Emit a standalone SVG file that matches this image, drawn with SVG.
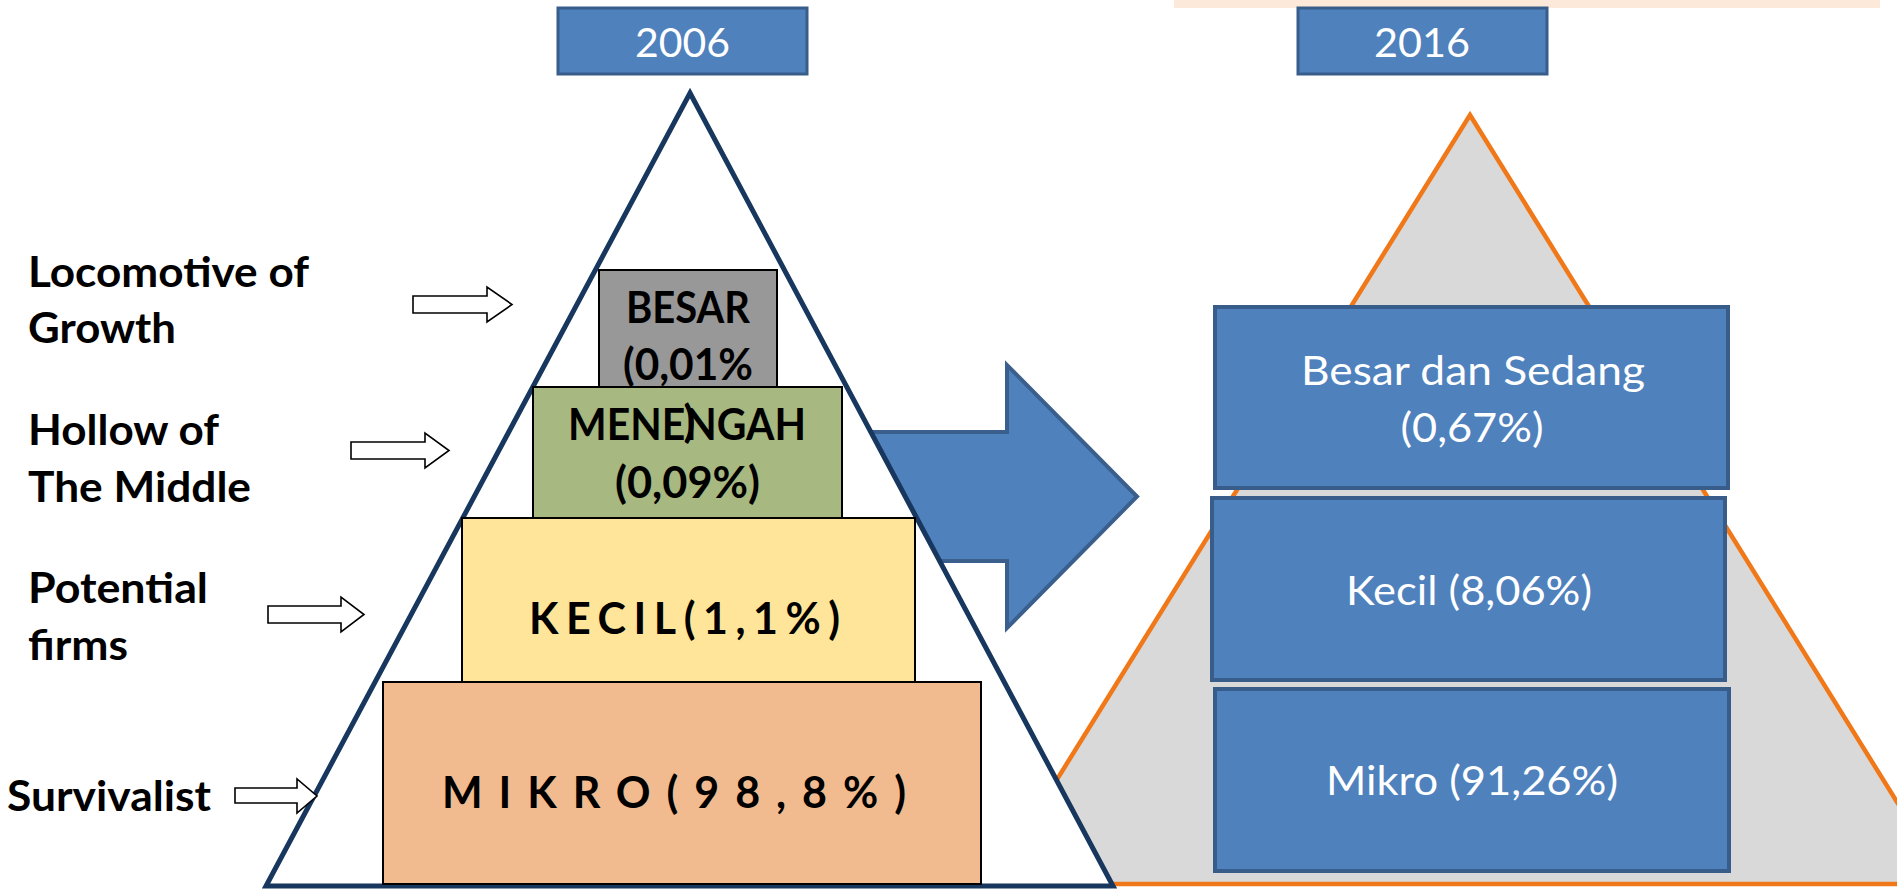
<svg xmlns="http://www.w3.org/2000/svg" width="1897" height="889" viewBox="0 0 1897 889">
  <style>
    .lbl { font-family: Lato, "Liberation Sans", sans-serif; font-weight: bold; font-size: 42px; fill: #000; }
    .boxt { font-family: Lato, "Liberation Sans", sans-serif; font-weight: bold; font-size: 43px; fill: #000; }
    .wt { font-family: Lato, "Liberation Sans", sans-serif; font-size: 41px; fill: #fff; }
    .yr { font-family: Lato, "Liberation Sans", sans-serif; font-size: 40px; fill: #fff; }
    .blue { fill: #4F81BD; stroke: #385D8A; stroke-width: 4; }
    .lbox { stroke: #000; stroke-width: 2; }
    .hollow { fill: #fff; stroke: #000; stroke-width: 1.6; }
  </style>

  <rect id="topbar" x="1174" y="0" width="706" height="8" fill="#FDE9D9"/>

  <g id="pyramid2016">
    <polygon points="1470,115 1948,884 992,884" fill="#D9D9D9" stroke="#F07818" stroke-width="4.5"/>
  </g>

  <g id="connectors">
    <path id="bigArrow" d="M850,432 H1007 V365 L1137,496.5 L1007,628 V561 H850 Z" fill="#4F81BD" stroke="#3A5F8D" stroke-width="4"/>
  </g>

  <g id="pyramid2006">
    <polygon points="690,93 1113,886 266,886" fill="#fff" stroke="#17375E" stroke-width="5"/>
  </g>

  <g id="mikro2006">
    <rect class="lbox" x="383" y="682" width="598" height="202" fill="#F2BB8F"/>
  </g>
  <g id="kecil2006">
    <rect class="lbox" x="462" y="518" width="453" height="164" fill="#FFE599"/>
  </g>
  <g id="menengah2006">
    <rect class="lbox" x="533" y="387" width="309" height="131" fill="#A7B880"/>
  </g>
  <g id="besar2006">
    <rect class="lbox" x="599" y="270" width="178" height="117" fill="#989898"/>
  </g>

  <g id="texts2006">
    <text class="boxt" x="688" y="323" text-anchor="middle" textLength="124" lengthAdjust="spacingAndGlyphs">BESAR</text>
    <text class="boxt" x="688" y="380" text-anchor="middle" textLength="130" lengthAdjust="spacingAndGlyphs">(0,01%</text>
    <text class="boxt" x="689.5" y="437" text-anchor="middle">)</text>
    <text class="boxt" x="687" y="440" text-anchor="middle" textLength="238" lengthAdjust="spacingAndGlyphs">MENENGAH</text>
    <text class="boxt" x="687.5" y="498" text-anchor="middle" textLength="145" lengthAdjust="spacingAndGlyphs">(0,09%)</text>
    <text class="boxt" x="529" y="634" textLength="311" lengthAdjust="spacing">KECIL(1,1%)</text>
    <text class="boxt" x="442" y="808" textLength="464" lengthAdjust="spacing">MIKRO(98,8%)</text>
  </g>

  <g id="besarSedang2016">
    <rect class="blue" x="1215" y="307" width="513" height="181"/>
    <text class="wt" x="1473" y="385" text-anchor="middle" textLength="344" lengthAdjust="spacingAndGlyphs">Besar dan Sedang</text>
    <text class="wt" x="1472" y="442" text-anchor="middle" textLength="143" lengthAdjust="spacingAndGlyphs">(0,67%)</text>
  </g>
  <g id="kecil2016">
    <rect class="blue" x="1212" y="498" width="513" height="182"/>
    <text class="wt" x="1469" y="605" text-anchor="middle" textLength="246" lengthAdjust="spacingAndGlyphs">Kecil (8,06%)</text>
  </g>
  <g id="mikro2016">
    <rect class="blue" x="1215" y="689" width="514" height="182"/>
    <text class="wt" x="1472" y="795" text-anchor="middle" textLength="292" lengthAdjust="spacingAndGlyphs">Mikro (91,26%)</text>
  </g>

  <g id="year2006">
    <rect x="558" y="8" width="249" height="66" fill="#4F81BD" stroke="#385D8A" stroke-width="3"/>
    <text class="yr" x="682.5" y="57" text-anchor="middle" textLength="95" lengthAdjust="spacingAndGlyphs">2006</text>
  </g>
  <g id="year2016">
    <rect x="1298" y="8" width="249" height="66" fill="#4F81BD" stroke="#385D8A" stroke-width="3"/>
    <text class="yr" x="1422" y="57" text-anchor="middle" textLength="96" lengthAdjust="spacingAndGlyphs">2016</text>
  </g>

  <g id="labelLocomotive">
    <text class="lbl" x="28" y="287" textLength="281" lengthAdjust="spacingAndGlyphs">Locomotive of</text>
    <text class="lbl" x="28" y="343" textLength="148" lengthAdjust="spacingAndGlyphs">Growth</text>
  </g>
  <g id="labelHollow">
    <text class="lbl" x="28" y="445" textLength="191" lengthAdjust="spacingAndGlyphs">Hollow of</text>
    <text class="lbl" x="28" y="502" textLength="223" lengthAdjust="spacingAndGlyphs">The Middle</text>
  </g>
  <g id="labelPotential">
    <text class="lbl" x="28" y="603" textLength="180" lengthAdjust="spacingAndGlyphs">Potential</text>
    <text class="lbl" x="28" y="660" textLength="100" lengthAdjust="spacingAndGlyphs">firms</text>
  </g>
  <g id="labelSurvivalist">
    <text class="lbl" x="7" y="811" textLength="204" lengthAdjust="spacingAndGlyphs">Survivalist</text>
  </g>

  <g id="labelArrows">
    <path class="hollow" d="M413,296 H487 V287 L512,304.5 L487,322 V313 H413 Z"/>
    <path class="hollow" d="M351,442 H425 V433 L449,450.5 L425,468 V459 H351 Z"/>
    <path class="hollow" d="M268,606 H341 V597 L364,614.5 L341,632 V623 H268 Z"/>
    <path class="hollow" d="M235,788 H297 V779 L317,796 L297,813 V803 H235 Z"/>
  </g>
</svg>
